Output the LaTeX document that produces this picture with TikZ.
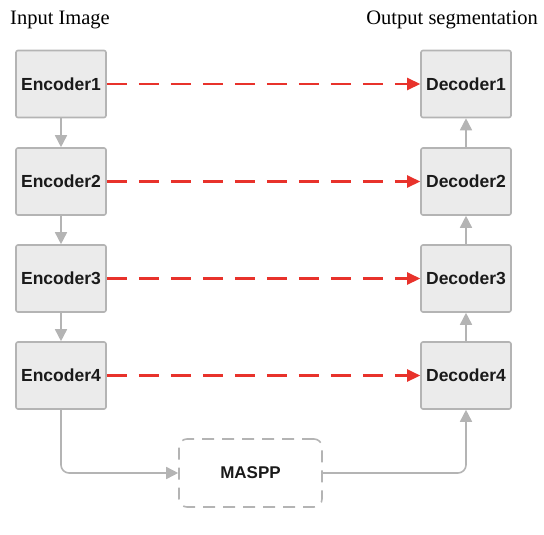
\documentclass[tikz,border=0pt]{standalone}
\usepackage{fontspec}
\setmainfont{Liberation Serif}
\setsansfont{Liberation Sans}
\usetikzlibrary{arrows.meta, positioning}
\definecolor{cbox}{HTML}{EBEBEB}
\definecolor{cedge}{HTML}{B4B4B4}
\definecolor{cred}{HTML}{E8322B}
\definecolor{ctext}{HTML}{1A1A1A}
\tikzset{
  block/.style={draw=cedge, fill=cbox, line width=1.6pt, rounded corners=2pt, minimum width=90pt, minimum height=67pt, inner sep=0pt, text=ctext, font=\sffamily\bfseries\fontsize{17.5}{20}\selectfont},
  flow/.style={-{Triangle[length=12pt, width=12pt]}, draw=cedge, line width=1.6pt, rounded corners=8pt},
  skip/.style={-{Triangle[length=13pt, width=12pt]}, draw=cred, line width=2.6pt, dash pattern=on 20pt off 12pt},
  title/.style={font=\fontsize{20.5}{24}\selectfont, inner sep=0pt},
}
\begin{document}
\begin{tikzpicture}[x=1pt, y=-1pt]
  \useasboundingbox (0,0) rectangle (544,535);
  % titles
  \node[title, anchor=base west] (tin) at (10,25) {Input Image};
  \node[title, anchor=base east] (tout) at (538,25) {Output segmentation};
  % encoders
  \node[block] (e1) at (61,84) {Encoder1};
  \node[block] (e2) at (61,181.5) {Encoder2};
  \node[block] (e3) at (61,278.5) {Encoder3};
  \node[block] (e4) at (61,375.5) {Encoder4};
  % decoders
  \node[block] (d1) at (466,84) {Decoder1};
  \node[block] (d2) at (466,181.5) {Decoder2};
  \node[block] (d3) at (466,278.5) {Decoder3};
  \node[block] (d4) at (466,375.5) {Decoder4};
  % bottleneck
  \node[draw=cedge, line width=1.6pt, dash pattern=on 12pt off 8pt, rounded corners=8pt, minimum width=143pt, minimum height=68pt, text=ctext, font=\sffamily\bfseries\fontsize{17}{19}\selectfont] (m) at (250.5,473) {MASPP};
  % down path
  \draw[flow] (e1) -- (e2);
  \draw[flow] (e2) -- (e3);
  \draw[flow] (e3) -- (e4);
  \draw[flow] (e4.south) |- (m.west);
  % up path
  \draw[flow] (m.east) -| (d4.south);
  \draw[flow] (d4) -- (d3);
  \draw[flow] (d3) -- (d2);
  \draw[flow] (d2) -- (d1);
  % skip connections
  \draw[skip] (e1.east) -- (d1.west);
  \draw[skip] (e2.east) -- (d2.west);
  \draw[skip] (e3.east) -- (d3.west);
  \draw[skip] (e4.east) -- (d4.west);
\end{tikzpicture}
\end{document}
